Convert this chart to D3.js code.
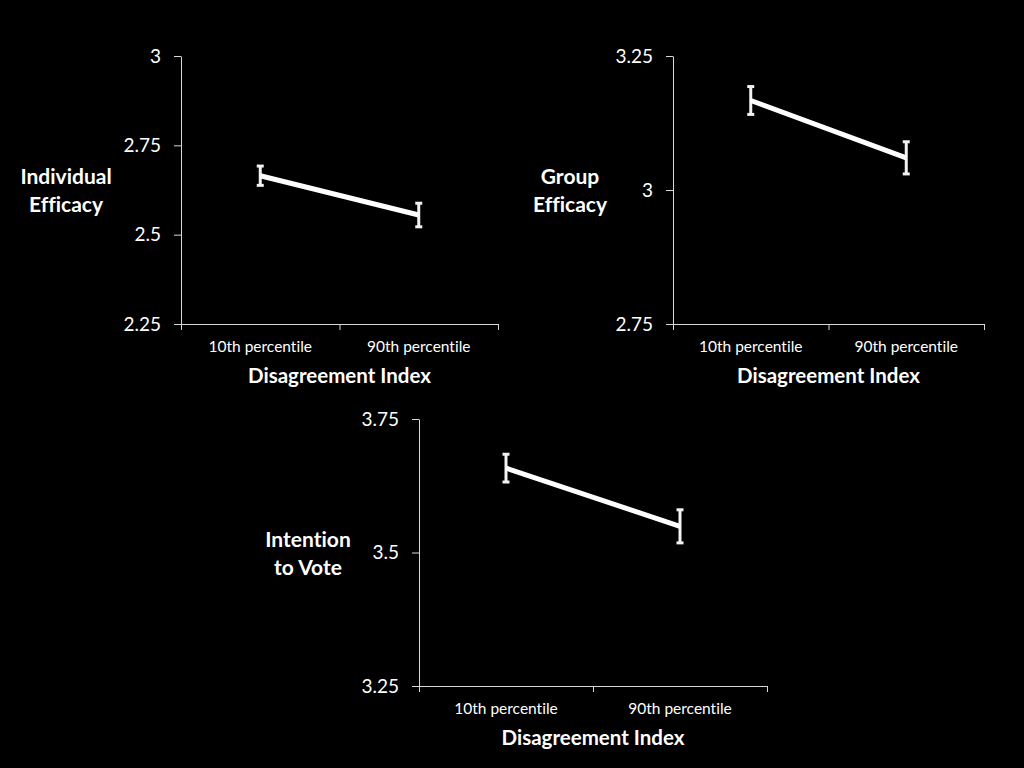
<html>
<head>
    <title>Disagreement Index</title>
    <style>
        body { margin: 0; background: #000; }
        text { font-family: Lato, "Open Sans", sans-serif; fill: #fff; font-variant-ligatures: none; }
    </style>
</head>
<body>
    <div id="viz"></div>
    <script src="https://d3js.org/d3.v7.min.js"></script>
    <script>
        // data
        var categories = ["10th percentile", "90th percentile"];

        var individualEfficacy = [2.665, 2.555];
        var individualErr = [0.027, 0.033];
        var individualTicks = [2.25, 2.5, 2.75, 3];

        var groupEfficacy = [3.167, 3.06];
        var groupErr = [0.026, 0.030];
        var groupTicks = [2.75, 3, 3.25];

        var intentionToVote = [3.658, 3.549];
        var intentionErr = [0.026, 0.031];
        var intentionTicks = [3.25, 3.5, 3.75];

        var width = 1024;
        var height = 768;

        var svg = d3.select("#viz")
            .append("svg")
            .attr("width", width)
            .attr("height", height)
            .style("background", "#000");

        var panels = [
            { values: individualEfficacy, err: individualErr, ticks: individualTicks,
              label: ["Individual", "Efficacy"], x0: 181, x1: 498, y0: 56, y1: 324, labelX: 66, labelY: 177 },
            { values: groupEfficacy, err: groupErr, ticks: groupTicks,
              label: ["Group", "Efficacy"], x0: 673, x1: 984, y0: 56, y1: 324, labelX: 570, labelY: 177 },
            { values: intentionToVote, err: intentionErr, ticks: intentionTicks,
              label: ["Intention", "to Vote"], x0: 419, x1: 767, y0: 419, y1: 686, labelX: 308, labelY: 540 }
        ];

        panels.forEach(drawPanel);

        function drawPanel(p) {
            var g = svg.append("g");

            var x = d3.scaleBand()
                .domain(categories)
                .range([p.x0, p.x1]);

            var y = d3.scaleLinear()
                .domain(d3.extent(p.ticks))
                .range([p.y1, p.y0]);

            // y axis
            var yAxis = g.append("g")
                .attr("transform", "translate(" + p.x0 + ",0)")
                .call(d3.axisLeft(y)
                    .tickValues(p.ticks)
                    .tickFormat(function (d) { return d; })
                    .tickSize(7)
                    .tickSizeOuter(0)
                    .tickPadding(13));
            yAxis.selectAll("path, line").attr("stroke", "#d9d9d9");
            yAxis.selectAll("text")
                .style("font-size", "19px")
                .attr("fill", "#fff");

            // x axis: ticks at band boundaries, labels at band centres
            var bounds = d3.scaleLinear().domain([0, categories.length]).range([p.x0, p.x1]);
            var xAxis = g.append("g")
                .attr("transform", "translate(0," + p.y1 + ")")
                .call(d3.axisBottom(bounds)
                    .tickValues(d3.range(categories.length + 1))
                    .tickFormat("")
                    .tickSize(6)
                    .tickSizeOuter(0));
            xAxis.selectAll("path, line").attr("stroke", "#d9d9d9");

            g.selectAll(".cat")
                .data(categories)
                .enter()
                .append("text")
                .attr("x", function (d) { return x(d) + x.bandwidth() / 2; })
                .attr("y", p.y1 + 28)
                .attr("text-anchor", "middle")
                .style("font-size", "15.5px")
                .text(function (d) { return d; });

            g.append("text")
                .attr("x", (p.x0 + p.x1) / 2)
                .attr("y", p.y1 + 59)
                .attr("text-anchor", "middle")
                .style("font-size", "20.5px")
                .style("font-weight", "bold")
                .text("Disagreement Index");

            // y label
            g.selectAll(".ylab")
                .data(p.label)
                .enter()
                .append("text")
                .attr("x", p.labelX)
                .attr("y", function (d, i) { return p.labelY + i * 28 + 7; })
                .attr("text-anchor", "middle")
                .style("font-size", "21px")
                .style("font-weight", "bold")
                .text(function (d) { return d; });

            var pts = p.values.map(function (v, i) {
                return { cat: categories[i], v: v, e: p.err[i] };
            });

            // error bars
            var eb = g.selectAll(".err")
                .data(pts)
                .enter()
                .append("g")
                .attr("stroke", "#f2f2f2")
                .attr("stroke-width", 3);
            eb.append("line")
                .attr("x1", function (d) { return x(d.cat) + x.bandwidth() / 2; })
                .attr("x2", function (d) { return x(d.cat) + x.bandwidth() / 2; })
                .attr("y1", function (d) { return y(d.v + d.e); })
                .attr("y2", function (d) { return y(d.v - d.e); });
            eb.append("line")
                .attr("x1", function (d) { return x(d.cat) + x.bandwidth() / 2 - 3.5; })
                .attr("x2", function (d) { return x(d.cat) + x.bandwidth() / 2 + 3.5; })
                .attr("y1", function (d) { return y(d.v + d.e); })
                .attr("y2", function (d) { return y(d.v + d.e); });
            eb.append("line")
                .attr("x1", function (d) { return x(d.cat) + x.bandwidth() / 2 - 3.5; })
                .attr("x2", function (d) { return x(d.cat) + x.bandwidth() / 2 + 3.5; })
                .attr("y1", function (d) { return y(d.v - d.e); })
                .attr("y2", function (d) { return y(d.v - d.e); });

            // mean line
            var line = d3.line()
                .x(function (d) { return x(d.cat) + x.bandwidth() / 2; })
                .y(function (d) { return y(d.v); });

            g.append("path")
                .datum(pts)
                .attr("d", line)
                .attr("fill", "none")
                .attr("stroke", "#fff")
                .attr("stroke-width", 5);
        }
    </script>
</body>
</html>
